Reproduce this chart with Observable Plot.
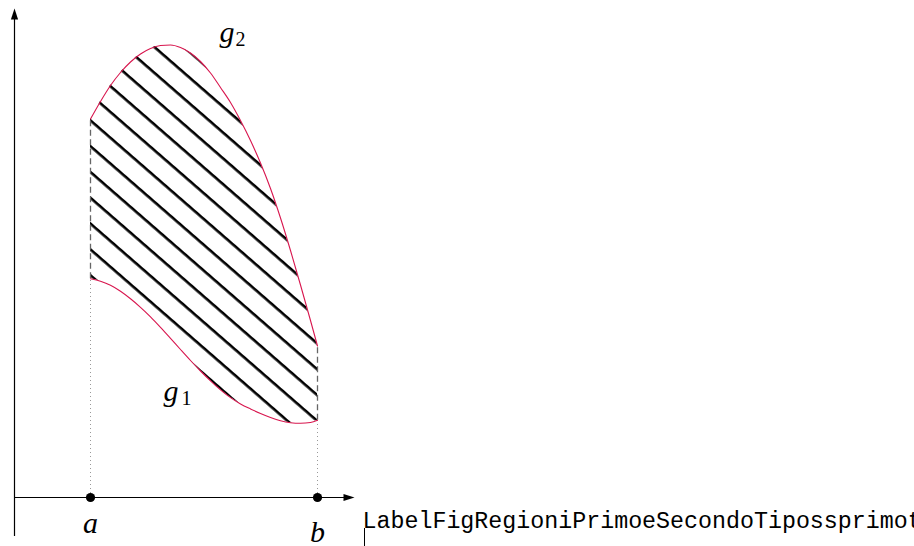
<!DOCTYPE html>
<html>
<head>
<meta charset="utf-8">
<script src="https://cdn.jsdelivr.net/npm/d3@7"></script>
<script src="https://cdn.jsdelivr.net/npm/@observablehq/plot@0.6"></script>
<style>
  html, body { margin: 0; padding: 0; background: #fff; overflow: hidden; }
  #chart svg { display: block; }
</style>
</head>
<body>
<div id="chart"></div>
<script>
// Sample abscissae (same for both curves), in picture units (origin at the axes' crossing)
const xs = [76, 86, 96, 106, 116, 126, 136, 146, 156, 166, 176, 186, 196, 206, 216, 226, 236, 246, 256, 266, 276, 286, 296, 303];
// Lower boundary g1
const g1 = [218.7, 216.2, 212.2, 206.2, 198.7, 190.2, 180.7, 170.2, 159.2, 148.0, 137.0, 126.5, 116.7, 107.7, 99.9, 93.6, 88.6, 84.1, 80.1, 76.8, 74.8, 74.2, 75.0, 77.2];
// Upper boundary g2
const g2 = [378.5, 396, 412, 425, 435.5, 443.5, 449, 452, 452.5, 450, 444.5, 436, 424.5, 410, 395, 377, 357, 334.5, 309, 279.5, 247, 212.5, 177, 151.5];

// Interval end points
const ends = [{name: "a", x: 76}, {name: "b", x: 303}];

// Axes extents
const xAxis = {from: 0, to: 340};
const yAxis = {from: -39, to: 489};

// Labels
const italicLabels = [
  {text: "a", x: 76, y: -35, anchor: "middle"},
  {text: "b", x: 303, y: -44, anchor: "middle"},
  {text: "g", x: 205, y: 456, anchor: "start"},
  {text: "g", x: 149, y: 97, anchor: "start"}
];
const subscripts = [
  {text: "2", x: 221, y: 452},
  {text: "1", x: 167, y: 93}
];
const refLabel = {text: "LabelFigRegioniPrimoeSecondoTipossprimot", x: 348, y: -30};
const refMarker = {x: 350, y1: -31, y2: -49};

const region = xs.map((x, i) => ({x, lo: g1[i], hi: g2[i]}));
const first = region[0], last = region[region.length - 1];

const latexArrow = {
  draw(ctx) {
    ctx.moveTo(0, 0);
    ctx.lineTo(3.6, 11);
    ctx.lineTo(-3.6, 11);
    ctx.closePath();
  }
};

const RED = "#d8164e";

const plot = Plot.plot({
  width: 914,
  height: 546,
  margin: 0,
  style: {background: "white", overflow: "hidden"},
  x: {domain: [-14, 900], range: [0, 914], axis: null},
  y: {domain: [-49, 497], range: [546, 0], axis: null},
  marks: [
    Plot.areaY(region, {x: "x", y1: "lo", y2: "hi", fill: "url(#hatch)", curve: "monotone-x"}),
    // dashed verticals between the curves
    Plot.ruleX([first, last], {x: "x", y1: "lo", y2: "hi", stroke: "#666", strokeWidth: 1.3, strokeDasharray: "6,3.5"}),
    // dotted verticals from axis to g1
    Plot.ruleX([first, last], {x: "x", y1: 0, y2: "lo", stroke: "#999", strokeWidth: 1, strokeDasharray: "1,3"}),
    Plot.line(region, {x: "x", y: "lo", stroke: RED, strokeWidth: 1.1, curve: "monotone-x"}),
    Plot.line(region, {x: "x", y: "hi", stroke: RED, strokeWidth: 1.1, curve: "monotone-x"}),
    // axes
    Plot.ruleY([0], {x1: xAxis.from, x2: xAxis.to - 6, stroke: "black", strokeWidth: 1.2}),
    Plot.ruleX([0], {y1: yAxis.from, y2: yAxis.to - 6, stroke: "black", strokeWidth: 1.2}),
    Plot.dot([{x: xAxis.to, y: 0}], {x: "x", y: "y", symbol: latexArrow, rotate: 90, fill: "black", stroke: null}),
    Plot.dot([{x: 0, y: yAxis.to}], {x: "x", y: "y", symbol: latexArrow, rotate: 0, fill: "black", stroke: null}),
    Plot.dot(ends, {x: "x", y: 0, r: 4.6, fill: "black", stroke: null}),
    // labels
    Plot.text(italicLabels.filter(d => d.anchor === "middle"), {x: "x", y: "y", text: "text", fontSize: 30, fontStyle: "italic",
      textAnchor: "middle", lineAnchor: "bottom", fontFamily: "Liberation Serif", fill: "black"}),
    Plot.text(italicLabels.filter(d => d.anchor === "start"), {x: "x", y: "y", text: "text", fontSize: 30, fontStyle: "italic",
      textAnchor: "start", lineAnchor: "bottom", fontFamily: "Liberation Serif", fill: "black"}),
    Plot.text(subscripts, {x: "x", y: "y", text: "text", fontSize: 20,
      textAnchor: "start", lineAnchor: "bottom", fontFamily: "Liberation Serif", fill: "black"}),
    Plot.text([refLabel], {x: "x", y: "y", text: "text", textAnchor: "start", lineAnchor: "bottom",
      fontFamily: "Liberation Mono", fontSize: 23.3, fill: "black"}),
    Plot.ruleX([refMarker], {x: "x", y1: "y1", y2: "y2", stroke: "black", strokeWidth: 1})
  ]
});

// hatch pattern: parallel lines falling to the right
const theta = Math.atan(0.87) * 180 / Math.PI;
const defs = d3.select(plot).insert("defs", ":first-child");
const pat = defs.append("pattern")
  .attr("id", "hatch")
  .attr("patternUnits", "userSpaceOnUse")
  .attr("width", 40)
  .attr("height", 19.47)
  .attr("patternTransform", `rotate(${theta})`);
pat.append("rect").attr("x", 0).attr("y", 12.0 - 1.3).attr("width", 40).attr("height", 2.6).attr("fill", "black");

document.getElementById("chart").appendChild(plot);
</script>
</body>
</html>
